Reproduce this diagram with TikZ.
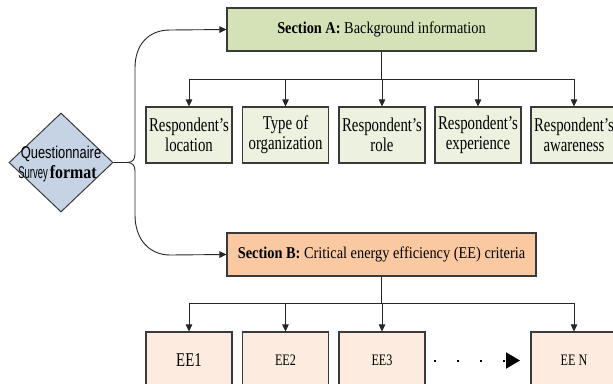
\documentclass[tikz,border=0pt]{standalone}
\usepackage{fontspec}
\usepackage{graphicx}
\usetikzlibrary{arrows.meta,shapes.geometric}
\setmainfont{Liberation Serif}
\newfontfamily\boxfont{Liberation Serif}[FakeStretch=0.76]
\newfontfamily\secfont{Liberation Serif}[FakeStretch=0.87]
\newfontfamily\qsans{Liberation Sans}
\definecolor{secAfill}{HTML}{D5E2B8}
\definecolor{topfill}{HTML}{EDF1E0}
\definecolor{secBfill}{HTML}{FAC9A2}
\definecolor{botfill}{HTML}{FCEBDE}
\definecolor{diafill}{HTML}{C6D3E4}
\definecolor{edge}{HTML}{3A3A3A}
\tikzset{
  secbox/.style={draw=edge, line width=1.1pt, minimum width=309pt, minimum height=43pt, inner sep=0pt,
    font=\fontsize{16.5}{18}\selectfont\secfont},
  topbox/.style={draw=edge, line width=1.1pt, fill=topfill, minimum width=86pt, minimum height=56pt, inner sep=0pt,
    align=center, font=\fontsize{19.5}{20}\selectfont\boxfont},
  botbox/.style={draw=edge, line width=1.1pt, fill=botfill, minimum width=86pt, minimum height=57pt, inner sep=0pt,
    font=\fontsize{16}{17}\selectfont\boxfont},
  conn/.style={draw=black!85, line width=0.9pt},
  arr/.style={conn, -{Triangle[length=7pt,width=6.5pt]}},
}
\begin{document}
\begin{tikzpicture}[x=1pt,y=-1pt]
\useasboundingbox (0,0) rectangle (613,383);

% diamond
\node[diamond, draw=edge, line width=1pt, fill=diafill, minimum width=104pt, minimum height=99pt, inner sep=0pt] (dia) at (61,162.5) {};
\node[anchor=base, inner sep=0pt, font=\fontsize{17}{18}\selectfont\qsans] (dq1) at (61,158) {\scalebox{0.76}[1]{Questionnaire}};
\node[anchor=base, inner sep=0pt] (dq2) at (57.5,178) {\fontsize{17}{18}\selectfont\qsans\scalebox{0.56}[1]{Survey}\hspace{2pt}\fontsize{18.5}{19}\selectfont\rmfamily\bfseries\scalebox{0.86}[1]{format}};

% sections
\node[secbox, fill=secAfill] (A) at (381.5,29.5) {\textbf{Section A:} Background information};
\node[secbox, fill=secBfill] (B) at (381.5,254.5) {\textbf{Section B:} Critical energy efficiency (EE) criteria};

% top row
\node[topbox] (t1) at (189,135) {Respondent’s\\location};
\node[topbox] (t2) at (285.5,135) {Type of\\organization};
\node[topbox] (t3) at (382,135) {Respondent’s\\role};
\node[topbox] (t4) at (478,135) {Respondent’s\\experience};
\node[topbox] (t5) at (574,135) {Respondent’s\\awareness};

% bottom row
\node[botbox] (e1) at (189,360.5) {\fontsize{19.5}{20}\selectfont EE1};
\node[botbox] (e2) at (285.5,360.5) {EE2};
\node[botbox] (e3) at (382,360.5) {EE3};
\node[botbox] (eN) at (574,360.5) {EE N};

% braces from diamond
\draw[arr] (dia.east) -- (127,162.5) .. controls (132,162.5) and (135,160) .. (135,154)
  -- (135,68) .. controls (135,45) and (148,30) .. (170,30) -- (A.west);
\draw[arr] (dia.east) -- (127,162.5) .. controls (132,162.5) and (135,165) .. (135,171)
  -- (135,215) .. controls (135,240) and (150,255) .. (170,255) -- (B.west);

% tree A
\draw[conn] (A.south) -- ++(0,28) coordinate (ja);
\foreach \n in {t1,t2,t3,t4,t5} { \draw[arr] (ja) -| (\n.north); }

% tree B
\draw[conn] (B.south) -- ++(0,27) coordinate (jb);
\foreach \n in {e1,e2,e3,eN} { \draw[arr] (jb) -| (\n.north); }

% dotted arrow
\coordinate (ds) at (434,360.5);
\coordinate (de) at (520,360.5);
\draw[line width=2pt, dash pattern=on 2pt off 21pt, -{Triangle[length=14pt,width=16pt]}] (ds) -- (de);
\end{tikzpicture}
\end{document}
